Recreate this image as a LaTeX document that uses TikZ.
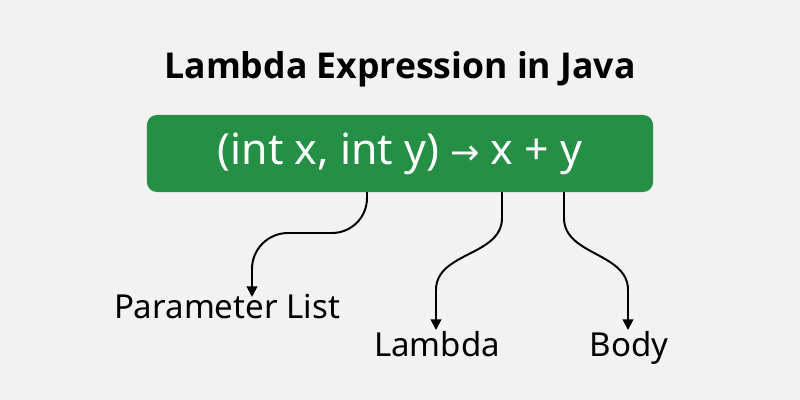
\documentclass[tikz,border=0pt]{standalone}
\usepackage{fontspec}
\setmainfont{Noto Sans}
\newfontfamily\titlefont{Open Sans}
\newfontfamily\arrowfont{DejaVu Sans}
\usetikzlibrary{arrows.meta}
\definecolor{bggray}{RGB}{242,242,242}
\definecolor{lamgreen}{RGB}{38,143,70}
\tikzset{
  lbl/.style={font=\fontsize{23.5}{26}\selectfont, inner sep=0pt, anchor=base},
  conn/.style={line width=1.4pt, -{Triangle[length=7.5pt,width=7.5pt]}}
}
\begin{document}
\begin{tikzpicture}[x=0.025cm,y=-0.025cm]
\fill[bggray] (0,0) rectangle (800,400);
\useasboundingbox (0,0) rectangle (800,400);
\node[font=\titlefont\fontsize{25.3}{28}\selectfont\bfseries] (title) at (400,69) {Lambda Expression in Java};
\node[fill=lamgreen, rounded corners=0.25cm, minimum width=12.65cm, minimum height=1.925cm, text=white,
      font=\fontsize{30.5}{34}\selectfont] (expr) at (400,153.5) {(int x, int y) {\arrowfont\fontsize{25}{34}\selectfont →} x + y};
  \node[lbl] (param) at (227,318) {Parameter List};
  \node[lbl] (lambda) at (437,356) {Lambda};
  \node[lbl] (body) at (629,356) {Body};
      \coordinate (ps) at (367,192);
      \coordinate (ls) at (502,192);
      \coordinate (bs) at (564,192);
      % curved connectors
      \draw[conn] (ps) -- (367,198) to[out=-90,in=0] (332,233) -- (288,233) to[out=180,in=90] (252,269) -- (252,297);
      \draw[conn] (ls) -- (502,218) to[out=-90,in=90] (436,290) -- (436,330);
      \draw[conn] (bs) -- (564,218) to[out=-90,in=90] (628,290) -- (628,330);
\end{tikzpicture}
\end{document}
